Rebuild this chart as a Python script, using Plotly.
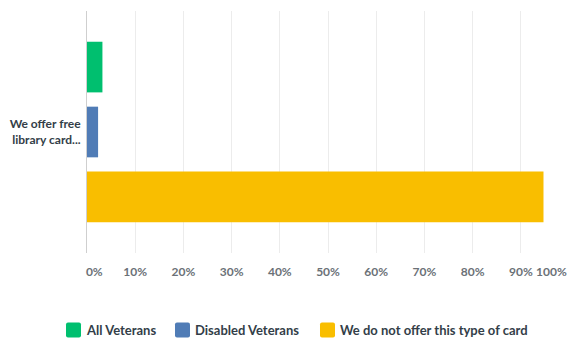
import re
import plotly.graph_objects as go

# Survey question (single category) and the share of answers per option
category = ["We offer free<br>library card..."]
series_names = ["All Veterans", "Disabled Veterans", "We do not offer this type of card"]
series_values = [0.032, 0.023, 0.947]
series_colors = ["#00bf6f", "#507cb6", "#f9be00"]

tick_vals = [0, 0.1, 0.2, 0.3, 0.4, 0.5, 0.6, 0.7, 0.8, 0.9, 1.0]
tick_text = ["\u00a0" * 5 + "0%", "10%", "20%", "30%", "40%", "50%",
             "60%", "70%", "80%", "90%", ""]
last_tick_label = "100%"   # drawn right-aligned so it stays inside the page

font_family = "Lato, Open Sans, sans-serif"
W, H = 570, 339
M_L, M_R, M_T, M_B = 87, 0, 11, 86
tick_font = dict(size=12, color="#6b7177", weight=700, family=font_family)

fig = go.Figure()
for name, val, color in zip(series_names, series_values, series_colors):
    fig.add_trace(go.Bar(
        x=[val], y=category, orientation="h", name=name,
        marker=dict(color=color, line=dict(width=0)),
        hoverinfo="skip", showlegend=False,
    ))

# Custom legend row: rounded square swatch followed by bold label
legend_x = [66, 175, 320]   # left edge of each swatch, px
swatch = 15
legend_cy = 330             # vertical centre of the legend row, px


def px_x(p):
    return (p - M_L) / (W - M_L - M_R)


def px_y(p):
    return (H - M_B - p) / (H - M_T - M_B)


def to_paper(m):
    a, b = float(m.group(1)), float(m.group(2))
    return f"{px_x(a):.5f},{px_y(b):.5f}"


shapes = []
annotations = []
for name, color, lx in zip(series_names, series_colors, legend_x):
    x0, x1 = lx, lx + swatch
    y0, y1 = legend_cy - swatch / 2, legend_cy + swatch / 2
    r = 2
    path = (f"M{x0 + r},{y0} L{x1 - r},{y0} Q{x1},{y0} {x1},{y0 + r} "
            f"L{x1},{y1 - r} Q{x1},{y1} {x1 - r},{y1} L{x0 + r},{y1} "
            f"Q{x0},{y1} {x0},{y1 - r} L{x0},{y0 + r} Q{x0},{y0} {x0 + r},{y0} Z")
    ppath = re.sub(r"(-?[\d.]+),(-?[\d.]+)", to_paper, path)
    shapes.append(dict(type="path", xref="paper", yref="paper", path=ppath,
                       fillcolor=color, line=dict(width=0), layer="above"))
    annotations.append(dict(
        x=px_x(x1 + 3), y=px_y(legend_cy), xref="paper", yref="paper",
        text=name, showarrow=False, xanchor="left", yanchor="middle",
        font=dict(size=13, color="#333e48", weight=700, family=font_family),
    ))

# Final axis label, right-aligned at the plot edge
annotations.append(dict(
    x=1, y=0, xref="paper", yref="paper", text=last_tick_label,
    showarrow=False, xanchor="right", yanchor="middle",
    xshift=-1, yshift=-18, font=tick_font,
))

fig.update_layout(
    width=W, height=H,
    margin=dict(l=M_L, r=M_R, t=M_T, b=M_B, autoexpand=False),
    paper_bgcolor="white", plot_bgcolor="white",
    barmode="group", bargap=0.195, bargroupgap=0.22,
    font=dict(family=font_family),
    showlegend=False,
    shapes=shapes, annotations=annotations,
    xaxis=dict(
        range=[0, 1.002], tickvals=tick_vals, ticktext=tick_text,
        showgrid=True, gridcolor="#ececec", gridwidth=1,
        zeroline=False, showline=False, automargin=False,
        tickfont=tick_font,
        ticks="", ticklabelstandoff=10, ticklabeloverflow="allow",
        fixedrange=True,
    ),
    yaxis=dict(
        autorange="reversed", automargin=False,
        showline=True, linecolor="#cfcfcf", linewidth=1,
        showgrid=False, ticks="",
        tickfont=dict(size=12, color="#333e48", weight=700),
        ticklabelstandoff=3, fixedrange=True,
    ),
)

fig.write_html("out.html")
